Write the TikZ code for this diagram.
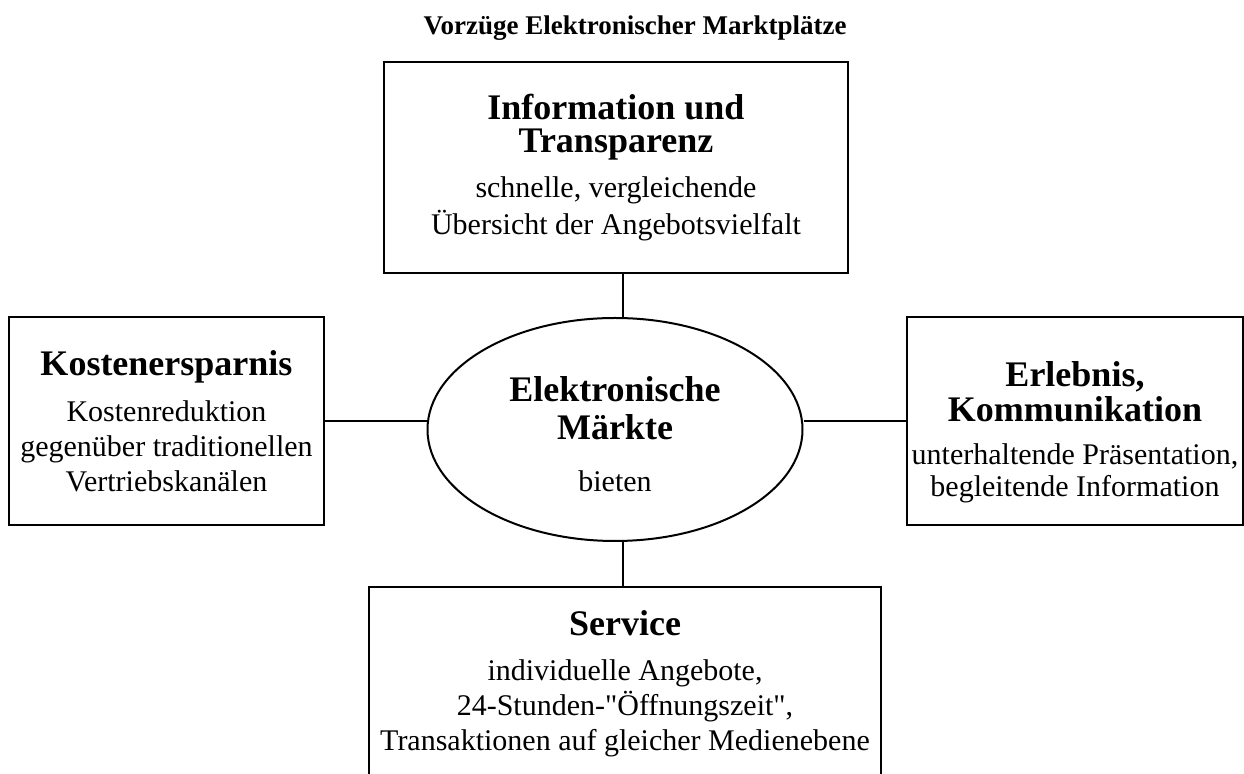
\documentclass[tikz,border=0pt]{standalone}
\usepackage{fontspec}
\setmainfont{Liberation Serif}[Ligatures=TeXOff]
\usetikzlibrary{shapes.geometric}
\lineskiplimit=-100pt
\newcommand{\hd}[1]{{\fontsize{18}{18}\selectfont\bfseries #1}}

\begin{document}
\begin{tikzpicture}[x=0.5pt, y=-0.5pt,
  every node/.style={font=\fontsize{15}{17.5}\selectfont},
  panel/.style={draw, line width=1.2pt, align=center},
  link/.style={line width=1pt}]
  \useasboundingbox (0,0) rectangle (1244,774);
  % title
  \node[font=\fontsize{13.5}{16}\selectfont\bfseries] (title) at (635,28) {Vorzüge Elektronischer Marktplätze};
  % centre ellipse and its text
  \node[draw, line width=1pt, ellipse, minimum width=187.5pt, minimum height=111.5pt] (markt) at (615,429.5) {};
  \node[align=center] (marktText) at (615,434.5) {\hd{Elektronische}\\[1.5pt]\hd{Märkte}\\[8.5pt]bieten};
  % the four boxes
  \node[panel, minimum width=232pt, minimum height=105.5pt] (info) at (616,167.5) {\hd{Information und}\\[-1pt]\hd{Transparenz}\\[5pt]schnelle, vergleichende\\[1pt]Übersicht der Angebotsvielfalt};
  \node[panel, minimum width=157.5pt, minimum height=104pt] (kosten) at (166.5,421) {\hd{Kostenersparnis}\\[5.5pt]Kostenreduktion\\gegenüber traditionellen\\Vertriebskanälen};
  \node[panel, minimum width=168pt, minimum height=104pt] (erlebnis) at (1075,421) {};
  \node[align=center] (erlebnisText) at (1075,432) {\hd{Erlebnis,}\\[0pt]\hd{Kommunikation}\\[4pt]unterhaltende Präsentation,\\[-1.5pt]begleitende Information};
  \node[panel, minimum width=256pt, minimum height=96.5pt] (service) at (625,683.5) {\hd{Service}\\[5pt]individuelle Angebote,\\24-Stunden-"Öffnungszeit",\\Transaktionen auf gleicher Medienebene};

  % connectors
  \draw[link] ([xshift=3.5pt]info.south) -- ([xshift=3.5pt]info.south |- markt.north);
  \draw[link] (kosten.east) -- (kosten.east -| markt.west);
  \draw[link] (markt.east |- erlebnis.west) -- (erlebnis.west);
  \draw[link] ([xshift=4pt]markt.south) -- ([xshift=4pt]markt.south |- service.north);
\end{tikzpicture}
\end{document}
